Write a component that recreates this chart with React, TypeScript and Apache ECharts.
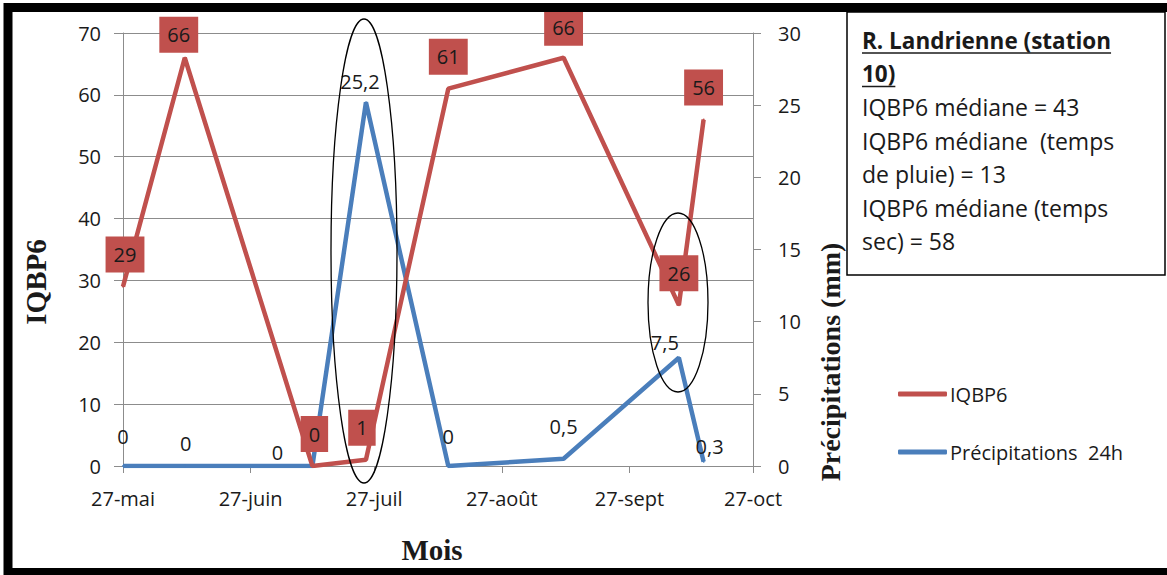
import React, { useEffect, useRef } from "react";
import * as echarts from "echarts";

// Sampling dates and measured values
const sampleDates = ["2013-05-27", "2013-06-11", "2013-07-12", "2013-07-25", "2013-08-14", "2013-09-11", "2013-10-09", "2013-10-15"];
const iqbp6 = [29, 66, 0, 1, 61, 66, 26, 56];
const precip24h = [0, 0, 0, 25.2, 0, 0.5, 7.5, 0.3];

// Month ticks on the x axis
const tickDates = ["2013-05-27", "2013-06-27", "2013-07-27", "2013-08-27", "2013-09-27", "2013-10-27"];
const tickLabels = ["27-mai", "27-juin", "27-juil", "27-août", "27-sept", "27-oct"];

// Station summary text
const boxTitle = ["R. Landrienne (station", "10)"];
const boxLines = [
  "IQBP6 médiane = 43",
  "IQBP6 médiane  (temps",
  "de pluie) = 13",
  "IQBP6 médiane (temps",
  "sec) = 58",
];

// Label nudges (dx, dy) so labels don't collide
const iqbpLabelShift = [[2, 0], [-6, 9], [2, 0], [-4, 0], [0, 0], [0, 2], [0, 0], [0, 0]];
const precipLabelShift = [[0, -20], [1, -13], [-35, -4], [-6, -11], [0, -20], [0, -22], [-14, -5], [6, -5]];

const DAY = 86400000;
const t0 = Date.parse(tickDates[0]);
const toDay = (d: string) => Math.round((Date.parse(d) - t0) / DAY);

const RED = "#C0504D";
const BLUE = "#4A7EBB";
const GRID = "#8C8C8C";
const TXT = "#1A1A1A";
const SANS = "'Open Sans', sans-serif";
const SERIF = "'Liberation Serif', 'Times New Roman', serif";

function measure(text: string, font: string): number {
  const c = document.createElement("canvas").getContext("2d");
  if (!c) return text.length * 12;
  c.font = font;
  return c.measureText(text).width;
}

export default function App() {
  const ref = useRef<HTMLDivElement>(null);

  useEffect(() => {
    if (!ref.current) return;
    const chart = echarts.init(ref.current, null, { renderer: "svg" });

    const xDays = sampleDates.map(toDay);
    const tickDays = tickDates.map(toDay);

    const redData = iqbp6.map((v, i) => ({
      value: [xDays[i], v],
      label: { offset: iqbpLabelShift[i] },
    }));
    const blueData = precip24h.map((v, i) => ({
      value: [xDays[i], v],
      label: { offset: precipLabelShift[i] },
    }));

    const titleFont = `bold 22.5px 'Open Sans'`;
    const bodyFont = `23px 'Open Sans'`;
    const boxX = 862;
    const lineH = 33.5;
    const firstY = 40;

    const boxTexts: any[] = [];
    boxTitle.forEach((t, i) => {
      const y = firstY + i * lineH;
      boxTexts.push({
        type: "text",
        x: boxX,
        y,
        z: 52,
        style: { text: t, fill: TXT, font: titleFont, verticalAlign: "middle", align: "left" },
      });
      const w = measure(t, titleFont);
      boxTexts.push({
        type: "line",
        z: 52,
        shape: { x1: boxX, y1: y + 13, x2: boxX + w, y2: y + 13 },
        style: { stroke: TXT, lineWidth: 1.5 },
      });
    });
    boxLines.forEach((t, i) => {
      boxTexts.push({
        type: "text",
        x: boxX,
        y: firstY + (i + 2) * lineH,
        z: 52,
        style: { text: t, fill: TXT, font: bodyFont, verticalAlign: "middle", align: "left" },
      });
    });

    chart.setOption({
      animation: false,
      backgroundColor: "#fff",
      grid: { left: 123, right: 414, top: 33, bottom: 109, containLabel: false },
      legend: {
        orient: "vertical",
        left: 893,
        top: 379,
        itemWidth: 49,
        itemHeight: 5,
        itemGap: 38,
        icon: "roundRect",
        textStyle: { fontFamily: SANS, fontSize: 20, color: TXT, padding: [0, 0, 0, -2] },
        data: ["IQBP6", "Précipitations  24h"],
      },
      xAxis: {
        type: "value",
        min: tickDays[0],
        max: tickDays[tickDays.length - 1],
        splitLine: { show: false },
        axisLine: { show: true, lineStyle: { color: GRID, width: 1 } },
        axisTick: { show: true, length: 7, customValues: tickDays, lineStyle: { color: GRID } },
        axisLabel: {
          customValues: tickDays,
          margin: 22,
          fontFamily: SANS,
          fontSize: 20,
          color: TXT,
          formatter: (v: number) => {
            const i = tickDays.indexOf(Math.round(v));
            return i >= 0 ? tickLabels[i] : "";
          },
        },
      },
      yAxis: [
        {
          type: "value",
          min: 0,
          max: 70,
          interval: 10,
          axisLine: { show: true, lineStyle: { color: GRID, width: 1 } },
          axisTick: { show: true, length: 9, lineStyle: { color: GRID } },
          splitLine: { show: true, lineStyle: { color: GRID, width: 1 } },
          axisLabel: { margin: 22, fontFamily: SANS, fontSize: 20, color: TXT },
        },
        {
          type: "value",
          min: 0,
          max: 30,
          interval: 5,
          position: "right",
          axisLine: { show: true, lineStyle: { color: GRID, width: 1 } },
          axisTick: { show: true, length: 8, lineStyle: { color: GRID } },
          splitLine: { show: false },
          axisLabel: { margin: 25, fontFamily: SANS, fontSize: 20, color: TXT },
        },
      ],
      series: [
        {
          name: "IQBP6",
          type: "line",
          yAxisIndex: 0,
          data: redData,
          symbol: "circle",
          symbolSize: 2,
          itemStyle: { color: RED },
          lineStyle: { color: RED, width: 4.5 },
          z: 3,
          label: {
            show: true,
            position: "top",
            distance: 13,
            formatter: (p: any) => String(p.value[1]),
            fontFamily: SANS,
            fontSize: 20,
            lineHeight: 20,
            color: TXT,
            backgroundColor: RED,
            padding: [8, 8],
          },
        },
        {
          name: "Précipitations  24h",
          type: "line",
          yAxisIndex: 1,
          data: blueData,
          symbol: "circle",
          symbolSize: 2,
          itemStyle: { color: BLUE },
          lineStyle: { color: BLUE, width: 4.5 },
          z: 2,
          label: {
            show: true,
            position: "top",
            distance: 0,
            formatter: (p: any) => String(p.value[1]).replace(".", ","),
            fontFamily: SANS,
            fontSize: 20,
            lineHeight: 18,
            color: TXT,
          },
        },
      ],
      graphic: [
        // outer frame
        {
          type: "rect",
          z: 100,
          shape: { x: 8, y: 7.5, width: 1166, height: 565 },
          style: { fill: "none", stroke: "#000", lineWidth: 9 },
        },
        // station summary box
        {
          type: "rect",
          z: 50,
          shape: { x: 847, y: 12, width: 318, height: 263 },
          style: { fill: "#fff", stroke: "#000", lineWidth: 1.5 },
        },
        ...boxTexts,
        // highlight rings around rain events
        {
          type: "ellipse",
          z: 60,
          shape: { cx: 364, cy: 251, rx: 33, ry: 232 },
          style: { fill: "none", stroke: "#000", lineWidth: 1.3 },
        },
        {
          type: "ellipse",
          z: 60,
          shape: { cx: 678, cy: 302.5, rx: 30, ry: 89.5 },
          style: { fill: "none", stroke: "#000", lineWidth: 1.3 },
        },
        // axis titles
        {
          type: "text",
          x: 36,
          y: 282,
          rotation: Math.PI / 2,
          style: { text: "IQBP6", fill: TXT, font: `bold 29px ${SERIF}`, align: "center", verticalAlign: "middle" },
        },
        {
          type: "text",
          x: 830,
          y: 362,
          rotation: Math.PI / 2,
          style: { text: "Précipitations (mm)", fill: TXT, font: `bold 28px ${SERIF}`, align: "center", verticalAlign: "middle" },
        },
        {
          type: "text",
          x: 432,
          y: 550,
          style: { text: "Mois", fill: TXT, font: `bold 29px ${SERIF}`, align: "center", verticalAlign: "middle" },
        },
      ],
    });

    return () => chart.dispose();
  }, []);

  return (
    <div
      ref={ref}
      style={{ position: "fixed", left: 0, top: 0, width: 1167, height: 575, background: "#fff" }}
    />
  );
}
